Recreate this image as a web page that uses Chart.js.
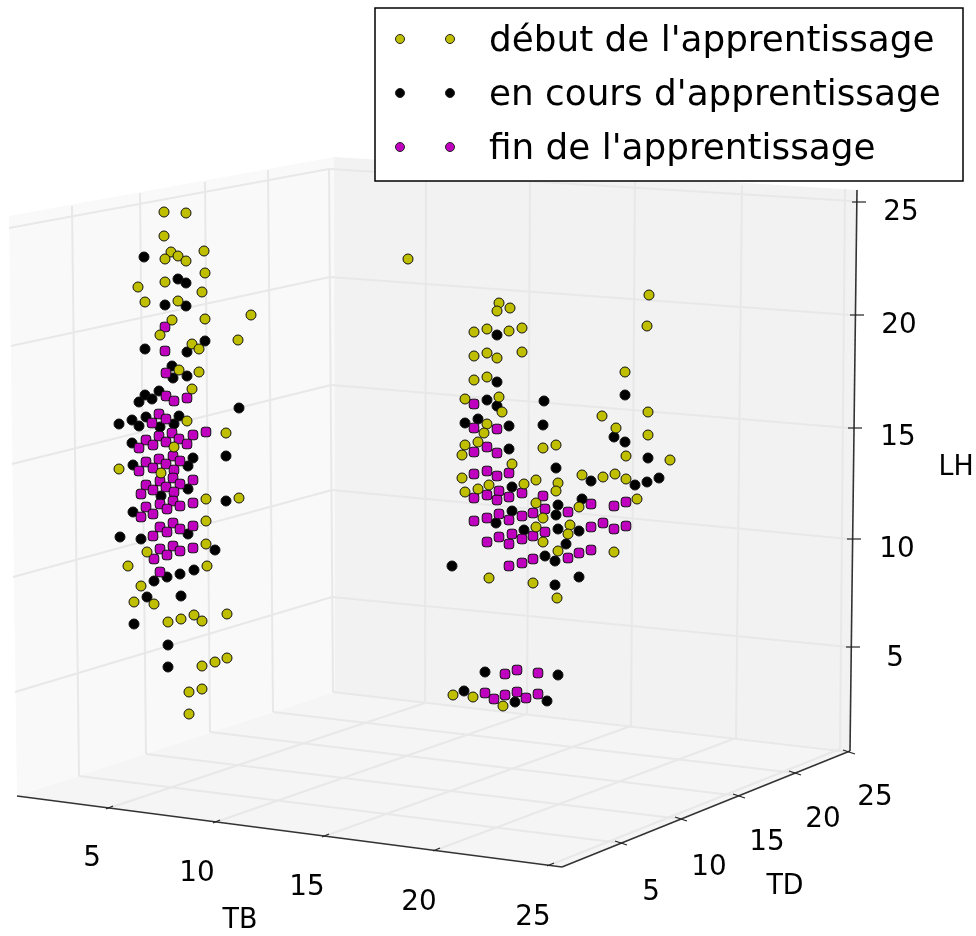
<!DOCTYPE html>
<html lang="fr">
<head>
<meta charset="utf-8">
<title>Apprentissage</title>
<script src="https://cdn.jsdelivr.net/npm/chart.js@4"></script>
<style>
    html, body { margin: 0; padding: 0; background: #fff; }
    canvas { display: block; }
</style>
</head>
<body>
<canvas id="grafico" width="976" height="936"></canvas>
<script>
const debut = [
    [164,212],[186,213],[164,236],[171,252],[165,259],[178,256],[186,261],[204,251],[205,273],[165,282],
    [138,287],[202,292],[145,302],[178,301],[172,320],[205,319],[251,315],[160,335],[238,340],[192,344],
    [199,349],[179,370],[199,372],[192,389],[187,421],[226,433],[174,447],[119,469],[161,473],[206,499],
    [239,498],[206,521],[206,544],[147,552],[128,566],[207,566],[141,586],[134,602],[154,604],[227,614],
    [194,615],[202,621],[181,619],[168,622],[227,658],[215,662],[202,666],[202,689],[189,692],[189,714],
    [408,259],
    [499,303],[510,308],[497,311],[649,295],[474,332],[487,329],[509,331],[522,328],[647,326],[474,356],
    [487,353],[497,358],[522,352],[625,372],[474,380],[487,377],[465,399],[499,397],[502,412],[602,416],
    [648,412],[616,428],[487,424],[484,433],[648,435],[478,442],[465,445],[462,455],[543,448],[556,445],
    [626,456],[670,460],[512,464],[462,478],[536,480],[524,484],[582,475],[603,477],[615,474],[626,479],
    [558,483],[465,492],[478,489],[489,485],[556,491],[637,499],[536,503],[579,507],[543,518],[570,525],
    [536,527],[568,534],[543,542],[558,551],[614,552],[489,578],[533,583],[557,598],[453,695],[473,697],
    [503,706]
];
const enCours = [
    [144,257],[178,279],[186,283],[165,305],[186,306],[205,341],[145,349],[187,352],[172,366],[173,378],
    [187,376],[159,391],[145,395],[139,402],[152,399],[239,408],[119,424],[132,420],[139,426],[146,417],
    [160,427],[174,424],[179,416],[132,443],[193,458],[226,456],[133,465],[188,466],[188,489],[161,496],
    [226,501],[133,512],[120,537],[141,539],[188,534],[215,550],[194,570],[180,574],[167,577],[154,581],
    [147,597],[181,596],[134,624],[168,645],[168,667],
    [497,335],[497,382],[487,400],[497,406],[544,401],[625,395],[478,419],[465,423],[509,426],[543,425],
    [614,437],[625,442],[509,449],[648,458],[556,468],[591,481],[635,485],[647,482],[659,478],[512,487],
    [582,499],[558,505],[512,511],[556,515],[496,523],[524,530],[558,529],[579,531],[566,544],[545,556],
    [555,561],[452,566],[579,577],[555,585],[485,672],[558,675],[464,691],[515,702],[547,701]
];
const fin = [
    [165,327],[165,351],[166,373],[166,396],[174,401],[187,398],[159,414],[152,423],[166,419],[206,432],
    [193,435],[172,433],[159,436],[146,440],[179,439],[166,442],[153,445],[187,444],[139,448],[173,456],
    [159,459],[146,462],[180,461],[166,464],[153,468],[174,470],[139,471],[173,478],[193,480],[160,481],
    [146,485],[180,484],[166,487],[153,490],[174,492],[141,494],[173,501],[193,503],[160,504],[146,507],
    [180,506],[167,509],[153,514],[141,517],[173,523],[193,526],[160,527],[180,529],[167,532],[153,536],
    [173,546],[193,548],[160,549],[180,551],[167,555],[154,559],[160,572],
    [474,404],[474,428],[497,429],[487,447],[474,452],[497,453],[474,474],[487,471],[497,476],[509,473],
    [474,498],[487,495],[499,491],[497,500],[509,497],[522,493],[543,496],[591,504],[614,506],[626,502],
    [499,514],[474,521],[487,518],[509,520],[522,516],[533,513],[545,509],[568,512],[591,527],[603,523],
    [614,529],[626,526],[487,542],[499,537],[512,534],[509,544],[522,539],[533,536],[545,532],[568,558],
    [579,553],[591,550],[533,559],[522,563],[509,566],[505,674],[517,670],[538,673],[485,693],[494,699],
    [505,695],[517,692],[526,698],[538,694]
];

const legendes = ["début de l'apprentissage", "en cours d'apprentissage", "fin de l'apprentissage"];
const couleurs = ['#bfbf00', '#000000', '#bf00bf'];
const graduations = ['5', '10', '15', '20', '25'];

// Parois de la boîte 3D
const paroiGauche = [[9,216],[334,157],[335,692],[17,796]];
const paroiDroite = [[334,157],[857,190],[850,751],[335,692]];
const sol = [[17,796],[562,867],[850,751],[335,692]];

// Lignes de grille [x1, y1, x2, y2]
const grille = [
    // LH sur les deux parois
    [9,228,329,169],[329,169,852,201],
    [11,346,330,277],[330,277,851,315],
    [12,464,331,385],[331,385,849,428],
    [13,577,332,490],[332,490,849,539],
    [15,692,332,597],[332,597,849,647],
    // TD sur la paroi gauche puis au sol
    [72,206,79,776],[140,193,146,754],[205,182,210,732],[268,170,273,712],[329,169,333,692],
    [79,776,621,843],[146,754,681,819],[210,732,739,796],[273,712,795,773],[333,692,849,752],
    // TB sur la paroi droite puis au sol
    [426,164,425,703],[530,171,527,714],[635,178,631,726],[742,185,736,738],[845,189,840,749],
    [109,808,425,703],[216,822,527,714],[325,836,631,726],[436,850,736,738],[550,865,840,749]
];

// Axes et positions des graduations
const axes = [[17,796,562,867],[562,867,850,751],[857,190,850,751]];
const tickTB = [[109,808],[216,822],[325,836],[436,850],[550,865]];
const tickTD = [[621,843],[681,819],[739,796],[795,773],[849,752]];
const tickLH = [[851,647],[852,539],[853,428],[855,315],[857,202]];
const texteTB = [[92,858],[197,873],[307,887],[419,902],[533,917]];
const texteTD = [[651,892],[709,867],[767,842],[823,819],[875,797]];
const texteLH = [[895,658],[897,549],[898,437],[899,325],[901,212]];
const titres = [['TB', 240, 921], ['TD', 785, 887], ['LH', 956, 468]];

function enPoints(liste) {
    return liste.map(p => ({ x: p[0], y: p[1] }));
}

// Fond de la figure : parois, grille, axes et textes
const decor3D = {
    id: 'decor3D',
    beforeDatasetsDraw(chart) {
        const ctx = chart.ctx;
        const px = v => chart.scales.x.getPixelForValue(v);
        const py = v => chart.scales.y.getPixelForValue(v);

        function polygone(points, couleur) {
            ctx.beginPath();
            points.forEach((p, i) => i ? ctx.lineTo(px(p[0]), py(p[1])) : ctx.moveTo(px(p[0]), py(p[1])));
            ctx.closePath();
            ctx.fillStyle = couleur;
            ctx.fill();
        }
        function segment(s, couleur, largeur) {
            ctx.beginPath();
            ctx.moveTo(px(s[0]), py(s[1]));
            ctx.lineTo(px(s[2]), py(s[3]));
            ctx.strokeStyle = couleur;
            ctx.lineWidth = largeur;
            ctx.stroke();
        }
        // Les chiffres de la figure sont un peu resserrés en largeur
        function texte(t, x, y, taille) {
            ctx.save();
            ctx.translate(px(x), py(y));
            ctx.scale(0.96, 1);
            ctx.font = taille + 'px "DejaVu Sans"';
            ctx.fillText(t, 0, 0);
            ctx.restore();
        }

        ctx.save();
        polygone(paroiGauche, '#f9f9f9');
        polygone(paroiDroite, '#f2f2f2');
        polygone(sol, '#f5f5f5');
        grille.forEach(s => segment(s, '#e8e8e8', 2));
        axes.forEach(s => segment(s, '#333', 1.6));

        tickTB.forEach(t => segment([t[0] - 3, t[1] + 1, t[0] + 4, t[1] - 2], '#222', 1.2));
        tickTD.forEach(t => segment([t[0] - 6, t[1] - 2, t[0] + 6, t[1] + 2], '#222', 1.2));
        tickLH.forEach(t => segment([t[0] - 5, t[1], t[0] + 9, t[1]], '#222', 1.2));

        ctx.fillStyle = '#000';
        ctx.textAlign = 'center';
        ctx.textBaseline = 'middle';
        graduations.forEach((g, i) => {
            texte(g, texteTB[i][0], texteTB[i][1], 29);
            texte(g, texteTD[i][0], texteTD[i][1], 29);
            texte(g, texteLH[i][0], texteLH[i][1], 29);
        });
        titres.forEach(t => texte(t[0], t[1], t[2], 28));
        ctx.restore();
    },
    // La légende a deux marqueurs par ligne, on la dessine ici
    afterDatasetsDraw(chart) {
        const ctx = chart.ctx;
        ctx.save();
        ctx.fillStyle = '#fff';
        ctx.strokeStyle = '#000';
        ctx.lineWidth = 1.5;
        ctx.fillRect(375, 8, 588, 173);
        ctx.strokeRect(375, 8, 588, 173);
        ctx.textAlign = 'left';
        ctx.textBaseline = 'middle';
        ctx.font = '35.8px "DejaVu Sans"';
        legendes.forEach((texte, i) => {
            const y = 39 + i * 54;
            [400, 450].forEach(x => {
                ctx.beginPath();
                ctx.arc(x, y, 4.5, 0, Math.PI * 2);
                ctx.fillStyle = couleurs[i];
                ctx.fill();
                ctx.lineWidth = 1;
                ctx.strokeStyle = '#222';
                ctx.stroke();
            });
            ctx.fillStyle = '#000';
            ctx.fillText(texte, 489, y + 3);
        });
        ctx.restore();
    }
};

function serie(label, liste, couleur, ordre, forme, rayon) {
    return {
        label: label,
        data: enPoints(liste),
        backgroundColor: couleur,
        borderColor: '#111',
        borderWidth: 1,
        pointRadius: rayon,
        pointStyle: forme,
        order: ordre
    };
}

// Échelles égales à la taille de la figure, axes natifs masqués
new Chart(document.getElementById('grafico').getContext('2d'), {
    type: 'scatter',
    data: {
        datasets: [
            serie(legendes[1], enCours, couleurs[1], 3, 'circle', 5),
            serie(legendes[2], fin, couleurs[2], 2, 'rectRounded', 5.6),
            serie(legendes[0], debut, couleurs[0], 1, 'circle', 5)
        ]
    },
    options: {
        responsive: false,
        animation: false,
        layout: { padding: 0, autoPadding: false },
        scales: {
            x: { type: 'linear', min: 0, max: 976, display: false },
            y: { type: 'linear', min: 0, max: 936, reverse: true, display: false }
        },
        plugins: {
            legend: { display: false },
            tooltip: { enabled: false }
        }
    },
    plugins: [decor3D]
});
</script>
</body>
</html>
